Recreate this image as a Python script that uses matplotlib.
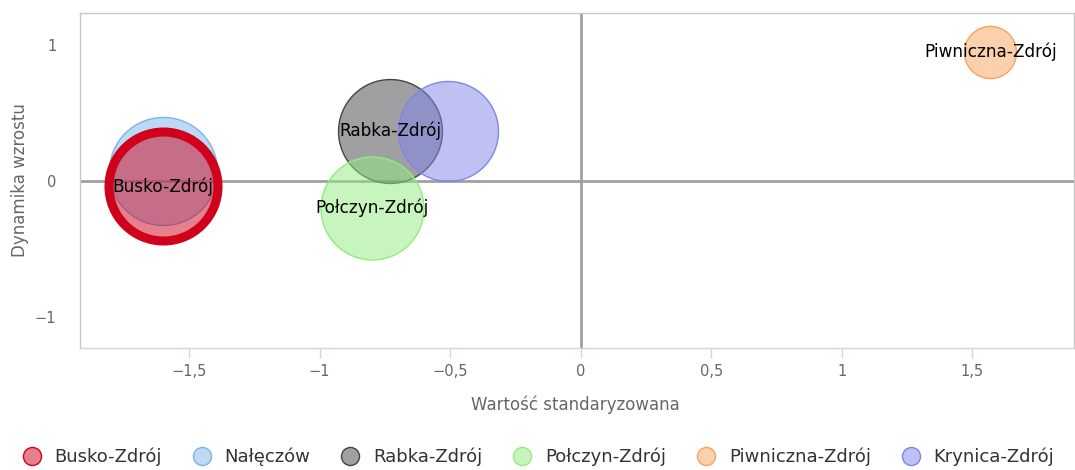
import numpy as np
import matplotlib
matplotlib.use('Agg')
import matplotlib.pyplot as plt
from matplotlib.ticker import FixedLocator, FuncFormatter

# dane: uzdrowiska
miasta = ["Busko-Zdrój", "Nałęczów", "Rabka-Zdrój", "Połczyn-Zdrój",
          "Piwniczna-Zdrój", "Krynica-Zdrój"]
wartosc_std = [-1.60, -1.60, -0.73, -0.80, 1.57, -0.51]
dynamika = [-0.04, 0.07, 0.37, -0.20, 0.95, 0.37]
wielkosc = [2.97, 2.92, 2.70, 2.65, 0.68, 2.50]
kolory = ["#d0021b", "#7cb5ec", "#434348", "#90ed7d", "#f7a35c", "#8085e9"]
z_etykieta = [True, False, True, True, True, False]

x_ticks = [-1.5, -1, -0.5, 0, 0.5, 1, 1.5]
y_ticks = [-1, 0, 1]

W, H, DPI = 1075, 470, 100
fig = plt.figure(figsize=(W / DPI, H / DPI), dpi=DPI)
ax = fig.add_axes([80 / W, 1 - 348 / H, 994 / W, 335 / H])
ax.set_xlim(-1.918, 1.89)
ax.set_ylim(-1.228, 1.235)

# promień bąbla w px, skalowany polem
r_max = 54.5
promienie = np.sqrt(np.array(wielkosc) / max(wielkosc)) * r_max
rozmiary = (2 * promienie * 72 / DPI) ** 2

# zerowe linie
ax.axhline(0, color="#a0a0a0", lw=2, zorder=1)
ax.axvline(0, color="#a0a0a0", lw=2, zorder=1)

kolejnosc = [1, 2, 3, 4, 5, 0]  # Busko (zaznaczone) na wierzchu
for z, i in enumerate(kolejnosc):
    ew = 1
    if i == 0:
        ew = 6.5
    ax.scatter(wartosc_std[i], dynamika[i], s=rozmiary[i],
               facecolor=matplotlib.colors.to_rgba(kolory[i], 0.5),
               edgecolor=kolory[i], linewidth=ew, zorder=2 + z)

for i in range(len(miasta)):
    if z_etykieta[i]:
        ax.text(wartosc_std[i], dynamika[i], miasta[i], ha="center",
                va="center", fontsize=12.2, color="black", zorder=20)

# osie
for s in ["left", "top", "right"]:
    ax.spines[s].set_color("#c8c8c8")
    ax.spines[s].set_linewidth(1)
ax.spines["bottom"].set_color("#ccd6eb")
ax.spines["bottom"].set_linewidth(1)

fmt = FuncFormatter(lambda v, p: ("%g" % v).replace(".", ",").replace("-", "\u2212"))
ax.xaxis.set_major_locator(FixedLocator(x_ticks))
ax.yaxis.set_major_locator(FixedLocator(y_ticks))
ax.xaxis.set_major_formatter(fmt)
ax.yaxis.set_major_formatter(fmt)
ax.tick_params(axis="x", length=7.2, width=1, color="#ccd6eb",
               labelcolor="#666666", labelsize=10.5, pad=4)
ax.tick_params(axis="y", length=0, labelcolor="#666666", labelsize=10.5, pad=17)

ax.set_xlabel("Wartość standaryzowana", color="#666666", fontsize=12)
ax.set_ylabel("Dynamika wzrostu", color="#666666", fontsize=12)
ax.xaxis.set_label_coords(0.4985, -(405 - 348) / 335)
ax.yaxis.set_label_coords(-(80 - 20) / 994, 0.5)
ax.xaxis.label.set_va("center")
ax.yaxis.label.set_va("center")

# legenda
uchwyty = []
for i in range(len(miasta)):
    h = plt.Line2D([], [], ls="none", marker="o", markersize=13,
                   markerfacecolor=matplotlib.colors.to_rgba(kolory[i], 0.5),
                   markeredgecolor=kolory[i], markeredgewidth=1)
    uchwyty.append(h)
leg = fig.legend(uchwyty, miasta, loc="center", bbox_to_anchor=(0.5, 1 - 457 / H),
                 ncol=6, frameon=False, fontsize=13, handletextpad=0.67,
                 columnspacing=1.6, handlelength=1.2)
for t in leg.get_texts():
    t.set_color("#333333")

fig.savefig("out.png", dpi=DPI)
